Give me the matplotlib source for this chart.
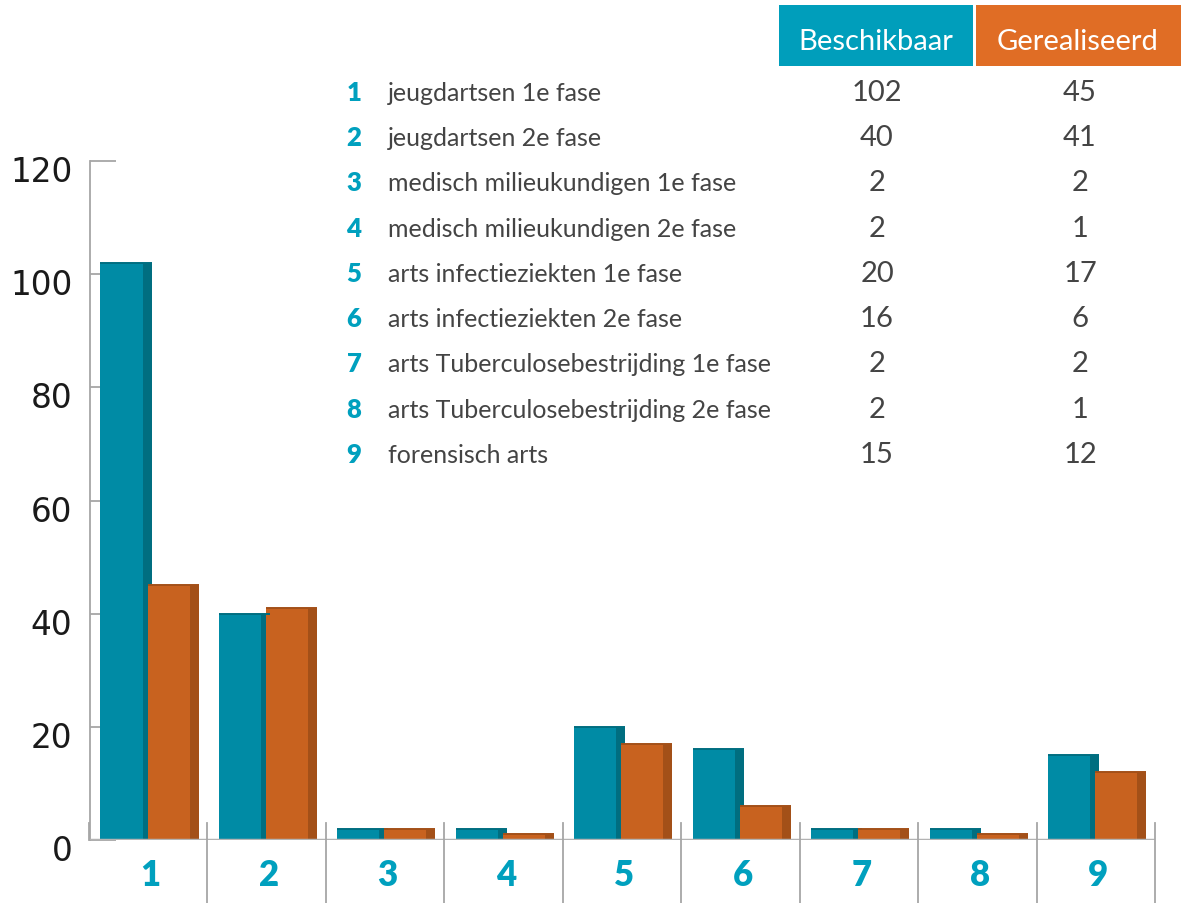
import matplotlib
matplotlib.use('Agg')
import matplotlib.pyplot as plt
from matplotlib.patches import Rectangle
from matplotlib.transforms import ScaledTranslation

##-Data
categories = ['1', '2', '3', '4', '5', '6', '7', '8', '9']
beroepen = [
    'jeugdartsen 1e fase',
    'jeugdartsen 2e fase',
    'medisch milieukundigen 1e fase',
    'medisch milieukundigen 2e fase',
    'arts infectieziekten 1e fase',
    'arts infectieziekten 2e fase',
    'arts Tuberculosebestrijding 1e fase',
    'arts Tuberculosebestrijding 2e fase',
    'forensisch arts',
]
beschikbaar = [102, 40, 2, 2, 20, 16, 2, 2, 15]
gerealiseerd = [45, 41, 2, 1, 17, 6, 2, 1, 12]
series_names = ['Beschikbaar', 'Gerealiseerd']
yticks = [0, 20, 40, 60, 80, 100, 120]

##-Style
W, H = 1181, 904
TEAL, TEAL_SIDE = '#008ba5', '#006e80'
ORANGE, ORANGE_SIDE = '#c8621f', '#a35018'
TEAL_HEAD, ORANGE_HEAD = '#009ebb', '#e06d25'
LABEL_TEAL = '#00a0be'
GRAY = '#a6a6a6'
TXT = '#444444'
FONT = ['Lato', 'DejaVu Sans']

fig = plt.figure(figsize=(W / 100, H / 100), dpi=100)

# main axes: x from 0..9 (one unit per category), y 0..120
left_px, right_px = 89, 1155
base_px, top_px = 841, 162
ax = fig.add_axes([left_px / W, (H - base_px) / H, (right_px - left_px) / W, (base_px - top_px) / H])
ax.set_xlim(0, len(categories))
ax.set_ylim(0, 120)
ax.patch.set_alpha(0)

front_w = 0.355
side_w = 0.076

def bar3d(x0, h, front, side):
    ax.add_patch(Rectangle((x0 + front_w, 0), side_w, h, facecolor=side, edgecolor='none', zorder=3))
    ax.add_patch(Rectangle((x0, 0), front_w, h, facecolor=front, edgecolor='none', zorder=3))
    ax.plot([x0, x0 + front_w + side_w], [h, h], color=side, lw=1.4, zorder=4, solid_capstyle='butt')

for i, (b, g) in enumerate(zip(beschikbaar, gerealiseerd)):
    bar3d(i + 0.097, b, TEAL, TEAL_SIDE)
    bar3d(i + 0.494, g, ORANGE, ORANGE_SIDE)

# axis styling
for s in ['top', 'right', 'bottom']:
    ax.spines[s].set_visible(False)
ax.spines['left'].set_color(GRAY)
ax.spines['left'].set_linewidth(1.3)
ax.spines['left'].set_position(('data', 0.012))
ax.set_yticks(yticks)
ax.set_xticks([])
ax.tick_params(axis='y', direction='in', length=19, width=1.3, color=GRAY, pad=13,
               labelsize=23.5, labelcolor='#1a1a1a')
for lb in ax.get_yticklabels():
    lb.set_fontfamily('DejaVu Sans')
    lb.set_transform(lb.get_transform() + ScaledTranslation(0, -0.07, fig.dpi_scale_trans))

# baseline
ax.axhline(0, color='#b3b3b3', lw=2.5, zorder=5, xmin=-0.002, xmax=1)

# category separators and labels
ppu = (base_px - top_px) / 120.0
y_sep_top = (base_px - 824) / ppu
y_fig_bot = -(H - base_px) / ppu
ax.plot([0, 0], [0, y_sep_top], color=GRAY, lw=1.3, clip_on=False, zorder=5)
for i in range(1, len(categories) + 1):
    ax.plot([i, i], [y_fig_bot, y_sep_top], color=GRAY, lw=1.3, clip_on=False, zorder=5)
for i, c in enumerate(categories):
    ax.text(i + 0.52, -(876 - base_px) / ppu, c, ha='center', va='center', fontsize=25,
            fontweight='heavy', color=LABEL_TEAL, family=FONT, clip_on=False)

# overlay in pixel coords for header and table
ov = fig.add_axes([0, 0, 1, 1])
ov.set_xlim(0, W)
ov.set_ylim(H, 0)
ov.axis('off')
ov.patch.set_alpha(0)

ov.add_patch(Rectangle((779, 6), 194, 61, facecolor=TEAL_HEAD, edgecolor='none'))
ov.add_patch(Rectangle((976, 6), 205, 61, facecolor=ORANGE_HEAD, edgecolor='none'))
ov.text(876, 50, series_names[0], ha='center', va='baseline', fontsize=21, color='white',
        family=FONT)
ov.text(1078, 50, series_names[1], ha='center', va='baseline', fontsize=21, color='white',
        family=FONT)

for i, (c, name, b, g) in enumerate(zip(categories, beroepen, beschikbaar, gerealiseerd)):
    yb = 100.7 + 45.3 * i
    ov.text(354, yb, c, ha='center', va='baseline', fontsize=18.5, fontweight='heavy',
            color=LABEL_TEAL, family=FONT)
    ov.text(388, yb, name, ha='left', va='baseline', fontsize=18, color=TXT,
            family=FONT)
    ov.text(877, yb, str(b), ha='center', va='baseline', fontsize=21, color=TXT,
            family=FONT)
    ov.text(1080, yb, str(g), ha='center', va='baseline', fontsize=21, color=TXT,
            family=FONT)

fig.savefig('out.png', dpi=100)
